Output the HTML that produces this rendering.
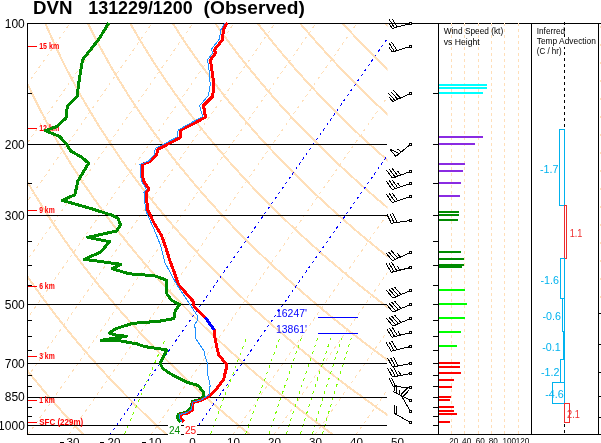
<!DOCTYPE html>
<html><head><meta charset="utf-8"><title>DVN 131229/1200 (Observed)</title>
<style>html,body{margin:0;padding:0;background:#fff;overflow:hidden}svg{display:block;will-change:transform}</style></head>
<body>
<svg width="601" height="443" viewBox="0 0 601 443" shape-rendering="crispEdges" font-family="'Liberation Sans', sans-serif">
<rect width="601" height="443" fill="#fff"/>
<defs><clipPath id="c"><rect x="27" y="23" width="360.5" height="411.5"/></clipPath></defs>
<g clip-path="url(#c)" fill="none">
<polyline stroke="#FFDFB9" stroke-width="2" points="86.6,438.1 82.7,434.0 78.7,429.8 74.7,425.5 70.6,421.1 66.4,416.5 62.2,411.9 58.0,407.1 53.7,402.2 49.3,397.1 44.8,391.9 40.3,386.5 35.8,381.0 31.1,375.3 26.4,369.4 21.7,363.2 16.8,356.9 11.9,350.3 6.8,343.4 1.7,336.3 -3.5,328.9 -8.8,321.1 -14.2,313.0 -19.7,304.5 -25.4,295.5 -31.1,286.1 -37.0,276.1"/>
<polyline stroke="#FFDFB9" stroke-width="2" points="170.3,438.1 165.8,434.0 161.3,429.8 156.6,425.5 152.0,421.1 147.2,416.5 142.4,411.9 137.5,407.1 132.6,402.2 127.6,397.1 122.5,391.9 117.3,386.5 112.0,381.0 106.7,375.3 101.2,369.4 95.7,363.2 90.1,356.9 84.4,350.3 78.5,343.4 72.6,336.3 66.5,328.9 60.3,321.1 54.0,313.0 47.5,304.5 40.9,295.5 34.2,286.1 27.2,276.1 20.1,265.5 12.8,254.3 5.4,242.2 -2.3,229.3 -10.2,215.3 -13.5,209.4 -16.7,203.3 -20.0,196.9 -23.4,190.3 -26.8,183.5 -30.2,176.3 -33.7,168.9 -37.2,161.2"/>
<polyline stroke="#FFDFB9" stroke-width="2" points="254.0,438.1 249.0,434.0 243.9,429.8 238.6,425.5 233.4,421.1 228.0,416.5 222.6,411.9 217.1,407.1 211.5,402.2 205.8,397.1 200.1,391.9 194.2,386.5 188.3,381.0 182.2,375.3 176.0,369.4 169.8,363.2 163.4,356.9 156.9,350.3 150.2,343.4 143.4,336.3 136.5,328.9 129.4,321.1 122.2,313.0 114.8,304.5 107.2,295.5 99.4,286.1 91.4,276.1 83.2,265.5 74.8,254.3 66.1,242.2 57.2,229.3 47.9,215.3 44.1,209.4 40.3,203.3 36.4,196.9 32.4,190.3 28.4,183.5 24.3,176.3 20.2,168.9 16.0,161.2 11.8,153.0 7.4,144.5 3.0,135.6 -1.4,126.1 -6.0,116.1 -10.6,105.6 -15.3,94.3 -20.0,82.2 -24.8,69.3 -29.7,55.3 -34.6,40.1 -39.6,23.5"/>
<polyline stroke="#FFDFB9" stroke-width="2" points="337.8,438.1 332.1,434.0 326.4,429.8 320.6,425.5 314.8,421.1 308.8,416.5 302.8,411.9 296.7,407.1 290.4,402.2 284.1,397.1 277.7,391.9 271.2,386.5 264.5,381.0 257.7,375.3 250.8,369.4 243.8,363.2 236.7,356.9 229.4,350.3 221.9,343.4 214.3,336.3 206.5,328.9 198.6,321.1 190.4,313.0 182.1,304.5 173.5,295.5 164.7,286.1 155.7,276.1 146.4,265.5 136.8,254.3 126.9,242.2 116.6,229.3 106.0,215.3 101.7,209.4 97.3,203.3 92.8,196.9 88.2,190.3 83.6,183.5 78.9,176.3 74.1,168.9 69.2,161.2 64.3,153.0 59.2,144.5 54.1,135.6 48.8,126.1 43.5,116.1 38.0,105.6 32.4,94.3 26.8,82.2 21.0,69.3 15.1,55.3 9.0,40.1 2.9,23.5 -3.3,5.1"/>
<polyline stroke="#FFDFB9" stroke-width="2" points="421.5,438.1 415.3,434.0 409.0,429.8 402.6,425.5 396.2,421.1 389.6,416.5 383.0,411.9 376.2,407.1 369.4,402.2 362.4,397.1 355.3,391.9 348.1,386.5 340.7,381.0 333.3,375.3 325.6,369.4 317.9,363.2 310.0,356.9 301.9,350.3 293.6,343.4 285.2,336.3 276.5,328.9 267.7,321.1 258.6,313.0 249.3,304.5 239.8,295.5 230.0,286.1 219.9,276.1 209.5,265.5 198.7,254.3 187.6,242.2 176.1,229.3 164.2,215.3 159.3,209.4 154.3,203.3 149.2,196.9 144.0,190.3 138.8,183.5 133.4,176.3 128.0,168.9 122.4,161.2 116.8,153.0 111.0,144.5 105.1,135.6 99.0,126.1 92.9,116.1 86.6,105.6 80.1,94.3 73.5,82.2 66.7,69.3 59.8,55.3 52.7,40.1 45.4,23.5 37.9,5.1"/>
<polyline stroke="#FFDFB9" stroke-width="2" points="432.9,391.9 425.0,386.5 417.0,381.0 408.8,375.3 400.4,369.4 391.9,363.2 383.2,356.9 374.4,350.3 365.3,343.4 356.0,336.3 346.5,328.9 336.8,321.1 326.8,313.0 316.6,304.5 306.1,295.5 295.3,286.1 284.1,276.1 272.6,265.5 260.7,254.3 248.4,242.2 235.6,229.3 222.3,215.3 216.8,209.4 211.3,203.3 205.6,196.9 199.8,190.3 194.0,183.5 188.0,176.3 181.9,168.9 175.6,161.2 169.3,153.0 162.8,144.5 156.1,135.6 149.3,126.1 142.3,116.1 135.2,105.6 127.8,94.3 120.3,82.2 112.5,69.3 104.6,55.3 96.3,40.1 87.9,23.5 79.1,5.1"/>
<polyline stroke="#FFDFB9" stroke-width="2" points="437.0,343.4 426.9,336.3 416.5,328.9 405.9,321.1 395.0,313.0 383.9,304.5 372.4,295.5 360.5,286.1 348.3,276.1 335.7,265.5 322.6,254.3 309.1,242.2 295.1,229.3 280.4,215.3 274.4,209.4 268.3,203.3 262.0,196.9 255.6,190.3 249.1,183.5 242.5,176.3 235.7,168.9 228.8,161.2 221.8,153.0 214.5,144.5 207.1,135.6 199.5,126.1 191.7,116.1 183.7,105.6 175.5,94.3 167.0,82.2 158.3,69.3 149.3,55.3 140.0,40.1 130.3,23.5 120.3,5.1"/>
<polyline stroke="#FFDFB9" stroke-width="2" points="438.7,295.5 425.8,286.1 412.5,276.1 398.8,265.5 384.6,254.3 369.9,242.2 354.5,229.3 338.6,215.3 332.0,209.4 325.3,203.3 318.4,196.9 311.4,190.3 304.3,183.5 297.1,176.3 289.6,168.9 282.0,161.2 274.3,153.0 266.3,144.5 258.1,135.6 249.8,126.1 241.2,116.1 232.3,105.6 223.2,94.3 213.8,82.2 204.1,69.3 194.0,55.3 183.6,40.1 172.8,23.5 161.6,5.1"/>
<polyline stroke="#FFDFB9" stroke-width="2" points="430.6,242.2 414.0,229.3 396.7,215.3 389.5,209.4 382.3,203.3 374.8,196.9 367.2,190.3 359.5,183.5 351.6,176.3 343.5,168.9 335.2,161.2 326.8,153.0 318.1,144.5 309.2,135.6 300.0,126.1 290.6,116.1 280.9,105.6 270.9,94.3 260.6,82.2 249.9,69.3 238.8,55.3 227.3,40.1 215.3,23.5 202.8,5.1"/>
<polyline stroke="#FFDFB9" stroke-width="2" points="439.3,203.3 431.2,196.9 423.1,190.3 414.7,183.5 406.1,176.3 397.4,168.9 388.4,161.2 379.3,153.0 369.8,144.5 360.2,135.6 350.2,126.1 340.0,116.1 329.5,105.6 318.6,94.3 307.3,82.2 295.6,69.3 283.5,55.3 270.9,40.1 257.8,23.5 244.0,5.1"/>
<polyline stroke="#FFDFB9" stroke-width="2" points="431.8,153.0 421.6,144.5 411.2,135.6 400.5,126.1 389.4,116.1 378.0,105.6 366.3,94.3 354.1,82.2 341.4,69.3 328.3,55.3 314.6,40.1 300.2,23.5 285.2,5.1"/>
<polyline stroke="#FFDFB9" stroke-width="2" points="438.9,116.1 426.6,105.6 414.0,94.3 400.8,82.2 387.2,69.3 373.0,55.3 358.2,40.1 342.7,23.5 326.4,5.1"/>
<polyline stroke="#FFDFB9" stroke-width="2" points="433.0,69.3 417.8,55.3 401.9,40.1 385.2,23.5 367.6,5.1"/>
<polyline stroke="#FFDFB9" stroke-width="2" points="427.7,23.5 408.8,5.1"/>
<line stroke="#FFDFB9" stroke-width="1" stroke-dasharray="3.2 3.8" x1="-341.2" y1="435.0" x2="-50.7" y2="20.0"/>
<line stroke="#FFDFB9" stroke-width="1" stroke-dasharray="3.2 3.8" x1="-300.2" y1="435.0" x2="-9.7" y2="20.0"/>
<line stroke="#FFDFB9" stroke-width="1" stroke-dasharray="3.2 3.8" x1="-259.2" y1="435.0" x2="31.3" y2="20.0"/>
<line stroke="#FFDFB9" stroke-width="1" stroke-dasharray="3.2 3.8" x1="-218.2" y1="435.0" x2="72.3" y2="20.0"/>
<line stroke="#FFDFB9" stroke-width="1" stroke-dasharray="3.2 3.8" x1="-177.2" y1="435.0" x2="113.3" y2="20.0"/>
<line stroke="#FFDFB9" stroke-width="1" stroke-dasharray="3.2 3.8" x1="-136.2" y1="435.0" x2="154.3" y2="20.0"/>
<line stroke="#FFDFB9" stroke-width="1" stroke-dasharray="3.2 3.8" x1="-95.2" y1="435.0" x2="195.3" y2="20.0"/>
<line stroke="#FFDFB9" stroke-width="1" stroke-dasharray="3.2 3.8" x1="-54.2" y1="435.0" x2="236.3" y2="20.0"/>
<line stroke="#FFDFB9" stroke-width="1" stroke-dasharray="3.2 3.8" x1="-13.2" y1="435.0" x2="277.3" y2="20.0"/>
<line stroke="#FFDFB9" stroke-width="1" stroke-dasharray="3.2 3.8" x1="27.8" y1="435.0" x2="318.3" y2="20.0"/>
<line stroke="#FFDFB9" stroke-width="1" stroke-dasharray="3.2 3.8" x1="68.8" y1="435.0" x2="359.3" y2="20.0"/>
<line stroke="#0000ff" stroke-width="1" stroke-dasharray="2.6 3.4" x1="109.8" y1="435.0" x2="400.3" y2="20.0"/>
<line stroke="#FFDFB9" stroke-width="1" stroke-dasharray="3.2 3.8" x1="150.8" y1="435.0" x2="441.3" y2="20.0"/>
<line stroke="#0000ff" stroke-width="1" stroke-dasharray="2.6 3.4" x1="191.8" y1="435.0" x2="482.3" y2="20.0"/>
<line stroke="#FFDFB9" stroke-width="1" stroke-dasharray="3.2 3.8" x1="232.8" y1="435.0" x2="523.3" y2="20.0"/>
<line stroke="#FFDFB9" stroke-width="1" stroke-dasharray="3.2 3.8" x1="273.8" y1="435.0" x2="564.3" y2="20.0"/>
<line stroke="#FFDFB9" stroke-width="1" stroke-dasharray="3.2 3.8" x1="314.8" y1="435.0" x2="605.3" y2="20.0"/>
<line stroke="#FFDFB9" stroke-width="1" stroke-dasharray="3.2 3.8" x1="355.8" y1="435.0" x2="646.3" y2="20.0"/>
<line stroke="#FFDFB9" stroke-width="1" stroke-dasharray="3.2 3.8" x1="396.8" y1="435.0" x2="687.3" y2="20.0"/>
<polyline stroke="#7CFC00" stroke-width="1" stroke-dasharray="3 4" points="124.6,434.0 128.2,425.5 132.0,416.5 136.0,407.1 140.2,397.1 144.7,386.5 149.5,375.3 154.7,363.2 160.3,350.3 165.5,338.3"/>
<polyline stroke="#7CFC00" stroke-width="1" stroke-dasharray="3 4" points="210.6,434.0 213.7,425.5 217.0,416.5 220.5,407.1 224.2,397.1 228.1,386.5 232.4,375.3 236.9,363.2 241.9,350.3 246.5,338.3"/>
<polyline stroke="#7CFC00" stroke-width="1" stroke-dasharray="3 4" points="245.8,434.0 248.7,425.5 251.8,416.5 255.1,407.1 258.6,397.1 262.3,386.5 266.3,375.3 270.6,363.2 275.2,350.3 279.5,338.3"/>
<polyline stroke="#7CFC00" stroke-width="1" stroke-dasharray="3 4" points="269.0,434.0 271.8,425.5 274.7,416.5 277.8,407.1 281.1,397.1 284.7,386.5 288.5,375.3 292.6,363.2 297.1,350.3 301.2,338.3"/>
<polyline stroke="#7CFC00" stroke-width="1" stroke-dasharray="3 4" points="286.4,434.0 289.1,425.5 291.9,416.5 294.9,407.1 298.1,397.1 301.6,386.5 305.3,375.3 309.2,363.2 313.5,350.3 317.5,338.3"/>
<polyline stroke="#7CFC00" stroke-width="1" stroke-dasharray="3 4" points="300.5,434.0 303.1,425.5 305.8,416.5 308.7,407.1 311.8,397.1 315.2,386.5 318.7,375.3 322.6,363.2 326.8,350.3 330.7,338.3"/>
<polyline stroke="#7CFC00" stroke-width="1" stroke-dasharray="3 4" points="312.3,434.0 314.8,425.5 317.4,416.5 320.3,407.1 323.3,397.1 326.5,386.5 330.0,375.3 333.8,363.2 337.9,350.3 341.7,338.3"/>
<polyline stroke="#7CFC00" stroke-width="1" stroke-dasharray="3 4" points="322.4,434.0 324.9,425.5 327.5,416.5 330.3,407.1 333.2,397.1 336.4,386.5 339.8,375.3 343.5,363.2 347.5,350.3 351.2,338.3"/>
</g>
<g stroke="#000" stroke-width="1" fill="none">
<line x1="27" y1="23.5" x2="601" y2="23.5"/>
<line x1="27" y1="434.5" x2="601" y2="434.5"/>
<line x1="27.5" y1="23" x2="27.5" y2="435"/>
<line x1="27" y1="144.5" x2="387" y2="144.5"/>
<line x1="27" y1="215.5" x2="387" y2="215.5"/>
<line x1="27" y1="304.5" x2="387" y2="304.5"/>
<line x1="27" y1="363.5" x2="387" y2="363.5"/>
<line x1="27" y1="397.5" x2="387" y2="397.5"/>
<line x1="27" y1="425.5" x2="387" y2="425.5"/>
<line x1="27" y1="93.5" x2="32" y2="93.5"/>
<line x1="433" y1="93.5" x2="439" y2="93.5"/>
<line x1="27" y1="183.5" x2="32" y2="183.5"/>
<line x1="433" y1="183.5" x2="439" y2="183.5"/>
<line x1="27" y1="241.5" x2="32" y2="241.5"/>
<line x1="433" y1="241.5" x2="439" y2="241.5"/>
<line x1="27" y1="265.5" x2="32" y2="265.5"/>
<line x1="433" y1="265.5" x2="439" y2="265.5"/>
<line x1="27" y1="285.5" x2="32" y2="285.5"/>
<line x1="433" y1="285.5" x2="439" y2="285.5"/>
<line x1="27" y1="320.5" x2="32" y2="320.5"/>
<line x1="433" y1="320.5" x2="439" y2="320.5"/>
<line x1="27" y1="336.5" x2="32" y2="336.5"/>
<line x1="433" y1="336.5" x2="439" y2="336.5"/>
<line x1="27" y1="350.5" x2="32" y2="350.5"/>
<line x1="433" y1="350.5" x2="439" y2="350.5"/>
<line x1="27" y1="375.5" x2="32" y2="375.5"/>
<line x1="433" y1="375.5" x2="439" y2="375.5"/>
<line x1="27" y1="386.5" x2="32" y2="386.5"/>
<line x1="433" y1="386.5" x2="439" y2="386.5"/>
<line x1="27" y1="407.5" x2="32" y2="407.5"/>
<line x1="433" y1="407.5" x2="439" y2="407.5"/>
<line x1="27" y1="416.5" x2="32" y2="416.5"/>
<line x1="433" y1="416.5" x2="439" y2="416.5"/>
<line x1="433" y1="144.5" x2="439" y2="144.5"/>
<line x1="433" y1="215.5" x2="439" y2="215.5"/>
<line x1="433" y1="304.5" x2="439" y2="304.5"/>
<line x1="433" y1="363.5" x2="439" y2="363.5"/>
<line x1="433" y1="397.5" x2="439" y2="397.5"/>
<line x1="433" y1="425.5" x2="439" y2="425.5"/>
<line x1="438.5" y1="23" x2="438.5" y2="435"/>
<line x1="531.5" y1="23" x2="531.5" y2="435"/>
<line x1="598.5" y1="23" x2="598.5" y2="435"/>
<line x1="564.5" y1="22" x2="564.5" y2="434" stroke-dasharray="3 3"/>
<line x1="598" y1="313.5" x2="601" y2="313.5"/>
<line x1="598" y1="344.5" x2="601" y2="344.5"/>
<line x1="598" y1="372.5" x2="601" y2="372.5"/>
<line x1="598" y1="396.5" x2="601" y2="396.5"/>
<line x1="598" y1="417.5" x2="601" y2="417.5"/>
</g>
<g stroke="#FFDFB9" stroke-width="1" stroke-dasharray="3 3" fill="none">
<line x1="451.5" y1="23" x2="451.5" y2="434"/>
<line x1="464.5" y1="23" x2="464.5" y2="434"/>
<line x1="478.5" y1="23" x2="478.5" y2="434"/>
<line x1="491.5" y1="23" x2="491.5" y2="434"/>
<line x1="504.5" y1="23" x2="504.5" y2="434"/>
<line x1="518.5" y1="23" x2="518.5" y2="434"/>
<line x1="600.5" y1="26" x2="600.5" y2="300" stroke-dasharray="2 16"/>
</g>
<g stroke="#ff0000" stroke-width="1">
<line x1="28" y1="46.5" x2="37" y2="46.5"/>
<line x1="28" y1="128.5" x2="37" y2="128.5"/>
<line x1="28" y1="210.5" x2="37" y2="210.5"/>
<line x1="28" y1="286.5" x2="37" y2="286.5"/>
<line x1="28" y1="356.5" x2="37" y2="356.5"/>
<line x1="28" y1="400.5" x2="37" y2="400.5"/>
<line x1="28" y1="422.5" x2="37" y2="422.5"/>
</g>
<g fill="#ff0000" font-size="9px" font-weight="bold">
<text x="39.2" y="49.2" textLength="20.0" lengthAdjust="spacingAndGlyphs">15 km</text>
<text x="39.2" y="131.2" textLength="20.0" lengthAdjust="spacingAndGlyphs">12 km</text>
<text x="39.2" y="213.2" textLength="15.5" lengthAdjust="spacingAndGlyphs">9 km</text>
<text x="39.2" y="289.2" textLength="15.5" lengthAdjust="spacingAndGlyphs">6 km</text>
<text x="39.2" y="359.2" textLength="15.5" lengthAdjust="spacingAndGlyphs">3 km</text>
<text x="39.2" y="403.2" textLength="15.5" lengthAdjust="spacingAndGlyphs">1 km</text>
<text x="39.2" y="425.2" textLength="44.0" lengthAdjust="spacingAndGlyphs">SFC (229m)</text>
</g>
<g fill="none" stroke-linejoin="round">
<polyline stroke="#008B00" stroke-width="3" points="108.8,23.0 98.6,39.5 82.5,59.8 78.3,86.0 77.5,95.9 67.3,106.1 66.1,117.9 57.1,126.4 45.3,130.6 59.7,136.5 66.5,144.1 70.7,150.9 82.5,157.7 88.5,163.3 77.8,181.2 74.9,194.7 62.2,200.3 92.7,209.1 111.3,215.0 118.1,218.4 120.6,225.1 116.4,231.1 87.8,237.3 109.8,241.7 100.5,252.1 84.4,259.3 120.8,264.3 112.3,268.7 129.2,273.8 154.6,275.8 166.4,280.1 166.1,292.7 171.2,300.0 179.7,304.7 175.4,310.2 173.8,318.6 159.4,321.2 132.3,323.4 115.4,328.8 109.5,333.0 113.7,334.7 126.4,336.4 117.9,337.6 101.0,340.3 117.1,340.3 137.4,344.0 144.1,346.5 167.0,349.9 160.2,363.5 162.8,368.5 170.3,373.7 186.4,382.1 198.2,385.5 203.3,392.3 204.1,396.5 199.1,399.9 192.3,401.6 190.6,408.4 186.4,412.3 178.4,414.3 177.1,417.7 180.5,421.9"/>
<polyline stroke="#ff0000" stroke-width="3" points="227.1,22.7 223.3,30.1 222.6,39.6 214.5,49.8 215.5,53.2 210.4,59.9 213.2,79.5 213.9,82.6 212.8,96.2 203.5,105.5 205.5,117.3 180.6,130.0 180.3,137.6 158.1,149.3 156.4,155.2 150.5,161.2 142.0,164.5 143.2,180.6 148.8,189.1 146.2,192.5 147.1,204.3 147.9,210.0 153.8,222.7 161.5,235.4 165.7,247.2 169.9,260.8 175.0,274.3 178.4,284.5 193.1,301.2 194.3,307.1 205.0,317.2 214.3,329.9 215.1,339.2 218.5,354.5 227.0,365.2 223.6,379.6 215.1,390.6 208.4,396.5 200.8,400.4 193.1,402.5 192.3,410.1 188.1,412.9 180.5,414.6 180.8,418.5 183.8,421.9"/>
<polyline stroke="#1E90FF" stroke-width="1" points="224.5,23.0 220.5,30.5 219.5,39.0 211.5,49.0 212.5,53.0 207.5,60.0 209.7,75.0 210.2,85.2 208.5,95.3 199.6,105.8 202.6,116.5 178.1,130.0 177.6,136.8 155.2,148.6 154.0,155.0 148.5,161.0 140.0,164.5 141.2,180.6 146.5,189.5 144.0,192.5 145.0,204.0 145.4,210.0 153.8,228.6 160.6,245.5 164.8,262.5 172.5,276.8 176.7,284.5 190.6,305.4 197.7,316.4 197.4,320.6 194.8,324.0 195.7,338.4 204.1,351.1 204.5,354.5 207.5,363.5 207.2,372.0 210.1,385.5 209.2,394.8 200.5,400.2 192.8,402.0 191.5,409.3 187.2,412.6 179.5,414.5 179.0,418.0 182.0,421.9"/>
<polyline stroke="#0000ff" stroke-width="3" points="205,317.2 214.3,329.9"/>
<line stroke="#0000ff" stroke-width="1" x1="318" y1="317.5" x2="358" y2="317.5"/>
<line stroke="#0000ff" stroke-width="1" x1="318" y1="333.5" x2="358" y2="333.5"/>
</g>
<g fill="#0000ff" font-size="10.5px"><text x="276" y="317" textLength="31" lengthAdjust="spacingAndGlyphs">16247'</text><text x="276" y="333" textLength="31" lengthAdjust="spacingAndGlyphs">13861'</text></g>
<g stroke="#000" stroke-width="1" fill="none">
<line x1="409.1" y1="23.9" x2="392.2" y2="28.4"/><line x1="392.2" y1="28.4" x2="389.0" y2="23.2"/><line x1="394.4" y1="27.8" x2="389.0" y2="19.1"/><line x1="397.2" y1="27.0" x2="391.8" y2="18.4"/><rect x="409.5" y="22.5" width="2" height="2" fill="#fff"/>
<line x1="409.1" y1="46.9" x2="392.2" y2="52.0"/><line x1="392.2" y1="52.0" x2="388.8" y2="46.9"/><line x1="394.4" y1="51.3" x2="388.8" y2="42.8"/><line x1="397.2" y1="50.5" x2="391.5" y2="42.0"/><rect x="409.5" y="45.5" width="2" height="2" fill="#fff"/>
<line x1="409.1" y1="94.1" x2="392.9" y2="101.5"/><line x1="392.9" y1="101.5" x2="388.8" y2="96.9"/><line x1="395.0" y1="100.5" x2="388.3" y2="92.9"/><line x1="397.7" y1="99.3" x2="390.9" y2="91.7"/><line x1="400.3" y1="98.1" x2="393.5" y2="90.5"/><rect x="409.5" y="92.5" width="2" height="2" fill="#fff"/>
<line x1="409.3" y1="145.4" x2="395.7" y2="156.4"/><polygon fill="none" points="395.7,156.4 389.7,148.9 399.1,153.6"/><line x1="401.4" y1="151.8" x2="397.3" y2="149.1"/><rect x="409.5" y="143.5" width="2" height="2" fill="#fff"/>
<line x1="409.1" y1="172.0" x2="392.5" y2="178.1"/><line x1="392.5" y1="178.1" x2="386.3" y2="170.0"/><line x1="395.2" y1="177.1" x2="389.1" y2="169.0"/><line x1="397.9" y1="176.1" x2="391.8" y2="168.0"/><line x1="400.7" y1="175.1" x2="397.7" y2="171.2"/><rect x="409.5" y="170.5" width="2" height="2" fill="#fff"/>
<line x1="409.1" y1="184.0" x2="392.2" y2="189.5"/><line x1="392.2" y1="189.5" x2="386.3" y2="181.2"/><line x1="395.0" y1="188.6" x2="389.1" y2="180.3"/><line x1="397.7" y1="187.7" x2="391.8" y2="179.4"/><line x1="400.5" y1="186.8" x2="397.6" y2="182.8"/><rect x="409.5" y="182.5" width="2" height="2" fill="#fff"/>
<line x1="409.1" y1="197.0" x2="392.2" y2="202.5"/><line x1="392.2" y1="202.5" x2="386.3" y2="194.2"/><line x1="395.0" y1="201.6" x2="389.1" y2="193.3"/><line x1="397.7" y1="200.7" x2="391.8" y2="192.4"/><rect x="409.5" y="195.5" width="2" height="2" fill="#fff"/>
<line x1="409.0" y1="220.7" x2="391.3" y2="223.3"/><line x1="391.3" y1="223.3" x2="386.9" y2="214.1"/><line x1="394.2" y1="222.9" x2="389.8" y2="213.7"/><line x1="397.0" y1="222.5" x2="392.7" y2="213.2"/><rect x="409.5" y="219.5" width="2" height="2" fill="#fff"/>
<line x1="409.1" y1="253.1" x2="392.5" y2="260.6"/><line x1="392.5" y1="260.6" x2="385.8" y2="252.9"/><line x1="395.1" y1="259.4" x2="388.4" y2="251.7"/><line x1="397.8" y1="258.2" x2="391.1" y2="250.5"/><line x1="400.4" y1="257.0" x2="397.2" y2="253.3"/><rect x="409.5" y="251.5" width="2" height="2" fill="#fff"/>
<line x1="409.0" y1="267.9" x2="391.3" y2="272.3"/><line x1="391.3" y1="272.3" x2="386.0" y2="263.6"/><line x1="394.1" y1="271.6" x2="388.9" y2="262.9"/><line x1="396.9" y1="270.9" x2="391.7" y2="262.2"/><line x1="399.7" y1="270.2" x2="397.2" y2="266.0"/><rect x="409.5" y="266.5" width="2" height="2" fill="#fff"/>
<line x1="409.1" y1="291.1" x2="393.0" y2="298.1"/><line x1="393.0" y1="298.1" x2="386.4" y2="290.3"/><line x1="395.7" y1="296.9" x2="389.0" y2="289.2"/><line x1="398.3" y1="295.8" x2="391.7" y2="288.0"/><line x1="401.0" y1="294.6" x2="394.4" y2="286.9"/><rect x="409.5" y="289.5" width="2" height="2" fill="#fff"/>
<line x1="409.1" y1="305.1" x2="393.0" y2="312.1"/><line x1="393.0" y1="312.1" x2="386.4" y2="304.3"/><line x1="395.7" y1="310.9" x2="389.0" y2="303.2"/><line x1="398.3" y1="309.8" x2="391.7" y2="302.0"/><line x1="401.0" y1="308.6" x2="394.4" y2="300.9"/><rect x="409.5" y="303.5" width="2" height="2" fill="#fff"/>
<line x1="409.1" y1="319.1" x2="393.0" y2="326.1"/><line x1="393.0" y1="326.1" x2="386.4" y2="318.3"/><line x1="395.7" y1="324.9" x2="389.0" y2="317.2"/><line x1="398.3" y1="323.8" x2="391.7" y2="316.0"/><line x1="401.0" y1="322.6" x2="394.4" y2="314.9"/><rect x="409.5" y="317.5" width="2" height="2" fill="#fff"/>
<line x1="409.0" y1="332.9" x2="391.9" y2="337.2"/><line x1="391.9" y1="337.2" x2="386.6" y2="328.5"/><line x1="394.7" y1="336.5" x2="389.4" y2="327.8"/><line x1="397.5" y1="335.8" x2="392.2" y2="327.1"/><line x1="400.3" y1="335.1" x2="397.8" y2="330.9"/><rect x="409.5" y="331.5" width="2" height="2" fill="#fff"/>
<line x1="409.0" y1="346.9" x2="391.3" y2="351.2"/><line x1="391.3" y1="351.2" x2="386.1" y2="342.4"/><line x1="394.1" y1="350.5" x2="388.9" y2="341.7"/><line x1="396.9" y1="349.8" x2="391.7" y2="341.1"/><rect x="409.5" y="345.5" width="2" height="2" fill="#fff"/>
<line x1="409.0" y1="363.8" x2="392.5" y2="367.1"/><line x1="392.5" y1="367.1" x2="387.7" y2="358.1"/><line x1="395.3" y1="366.5" x2="390.5" y2="357.6"/><line x1="398.2" y1="366.0" x2="393.4" y2="357.0"/><rect x="409.5" y="362.5" width="2" height="2" fill="#fff"/>
<line x1="409.0" y1="373.8" x2="392.5" y2="377.2"/><line x1="392.5" y1="377.2" x2="387.6" y2="368.2"/><line x1="395.3" y1="376.6" x2="390.5" y2="367.7"/><line x1="398.2" y1="376.0" x2="393.3" y2="367.1"/><line x1="401.0" y1="375.4" x2="398.7" y2="371.1"/><rect x="409.5" y="372.5" width="2" height="2" fill="#fff"/>
<line x1="409.0" y1="387.4" x2="393.2" y2="386.6"/><line x1="393.2" y1="386.6" x2="388.6" y2="377.5"/><line x1="396.1" y1="386.8" x2="391.5" y2="377.7"/><rect x="409.5" y="386.5" width="2" height="2" fill="#fff"/>
<line x1="409.2" y1="399.8" x2="394.0" y2="392.0"/><line x1="394.0" y1="392.0" x2="394.2" y2="383.8"/><line x1="396.6" y1="393.3" x2="396.8" y2="385.1"/><line x1="399.2" y1="394.7" x2="399.3" y2="389.8"/><rect x="409.5" y="399.5" width="2" height="2" fill="#fff"/>
<line x1="409.8" y1="410.2" x2="400.9" y2="394.8"/><line x1="400.9" y1="394.8" x2="407.9" y2="387.4"/><line x1="402.3" y1="397.3" x2="409.3" y2="389.9"/><rect x="409.5" y="410.5" width="2" height="2" fill="#fff"/>
<line x1="409.2" y1="421.8" x2="394.0" y2="413.1"/><line x1="394.0" y1="413.1" x2="394.5" y2="404.9"/><line x1="396.5" y1="414.5" x2="397.0" y2="406.4"/><rect x="409.5" y="421.5" width="2" height="2" fill="#fff"/>
</g>
<g fill="#00ffff">
<rect x="439" y="84" width="48" height="2"/>
<rect x="439" y="87" width="48" height="2"/>
<rect x="439" y="92" width="44" height="2"/>
</g>
<g fill="#8A2BE2">
<rect x="439" y="136" width="44" height="2"/>
<rect x="439" y="143" width="36" height="2"/>
<rect x="439" y="163" width="26" height="2"/>
<rect x="439" y="170" width="24" height="2"/>
<rect x="439" y="182" width="22" height="2"/>
<rect x="439" y="195" width="21" height="2"/>
</g>
<g fill="#008B00">
<rect x="439" y="211" width="20" height="2"/>
<rect x="439" y="214" width="20" height="2"/>
<rect x="439" y="219" width="19" height="2"/>
<rect x="439" y="251" width="22" height="2"/>
<rect x="439" y="258" width="25" height="2"/>
<rect x="439" y="264" width="25" height="2"/>
<rect x="439" y="266" width="23" height="2"/>
</g>
<g fill="#00ff00">
<rect x="439" y="289" width="26" height="2"/>
<rect x="439" y="303" width="28" height="2"/>
<rect x="439" y="317" width="26" height="2"/>
<rect x="439" y="331" width="22" height="2"/>
<rect x="439" y="345" width="18" height="2"/>
</g>
<g fill="#ff0000">
<rect x="439" y="362" width="21" height="2"/>
<rect x="439" y="366" width="21" height="2"/>
<rect x="439" y="372" width="22" height="2"/>
<rect x="439" y="379" width="15" height="2"/>
<rect x="439" y="386" width="13" height="2"/>
<rect x="439" y="396" width="12" height="2"/>
<rect x="439" y="399" width="11" height="2"/>
<rect x="439" y="406" width="15" height="2"/>
<rect x="439" y="410" width="15" height="2"/>
<rect x="439" y="413" width="18" height="2"/>
<rect x="439" y="421" width="11" height="2"/>
</g>
<rect fill="#fff" stroke="#00B2EE" stroke-width="1" x="559.5" y="129.5" width="5.0" height="76.0"/>
<rect fill="#fff" stroke="#EE2C2C" stroke-width="1" x="564.5" y="205.5" width="2.0" height="53.0"/>
<rect fill="#fff" stroke="#00B2EE" stroke-width="1" x="560.5" y="258.5" width="4.0" height="40.0"/>
<rect fill="#fff" stroke="#00B2EE" stroke-width="1" x="562.5" y="298.5" width="2.0" height="33.0"/>
<rect fill="#fff" stroke="#00B2EE" stroke-width="1" x="563.5" y="331.5" width="1.0" height="28.0"/>
<rect fill="#fff" stroke="#00B2EE" stroke-width="1" x="560.5" y="359.5" width="4.0" height="23.0"/>
<rect fill="#fff" stroke="#00B2EE" stroke-width="1" x="552.5" y="382.5" width="12.0" height="21.0"/>
<rect fill="#fff" stroke="#EE2C2C" stroke-width="1" x="564.5" y="403.5" width="5.0" height="19.0"/>
<g font-size="10.3px">
<text x="558.5" y="172.9" fill="#00B2EE" text-anchor="end" textLength="18.5" lengthAdjust="spacingAndGlyphs">-1.7</text>
<text x="569.7" y="237.1" fill="#EE2C2C" text-anchor="start" textLength="12.8" lengthAdjust="spacingAndGlyphs">1.1</text>
<text x="559.0" y="283.8" fill="#00B2EE" text-anchor="end" textLength="18.5" lengthAdjust="spacingAndGlyphs">-1.6</text>
<text x="561.0" y="320.3" fill="#00B2EE" text-anchor="end" textLength="18.5" lengthAdjust="spacingAndGlyphs">-0.6</text>
<text x="560.7" y="351.3" fill="#00B2EE" text-anchor="end" textLength="18.5" lengthAdjust="spacingAndGlyphs">-0.1</text>
<text x="559.5" y="376.1" fill="#00B2EE" text-anchor="end" textLength="18.5" lengthAdjust="spacingAndGlyphs">-1.2</text>
<text x="563.8" y="398.0" fill="#00B2EE" text-anchor="end" textLength="18.5" lengthAdjust="spacingAndGlyphs">-4.6</text>
<text x="567.1" y="418.0" fill="#EE2C2C" text-anchor="start" textLength="12.8" lengthAdjust="spacingAndGlyphs">2.1</text>
</g>
<rect x="536" y="37" width="61" height="10" fill="#fff"/>
<g font-size="9.5px" fill="#000" lengthAdjust="spacingAndGlyphs">
<text x="443.7" y="34.3" textLength="59.5" lengthAdjust="spacingAndGlyphs">Wind Speed (kt)</text>
<text x="443.7" y="45.3" textLength="36.0" lengthAdjust="spacingAndGlyphs">vs Height</text>
<text x="536.8" y="34.0" textLength="28.2" lengthAdjust="spacingAndGlyphs">Inferred</text>
<text x="536.8" y="44.2" textLength="59.0" lengthAdjust="spacingAndGlyphs">Temp Advection</text>
<text x="536.8" y="53.5" textLength="24.8" lengthAdjust="spacingAndGlyphs">(C / hr)</text>
</g>
<g font-size="8.2px" fill="#000">
<text x="449.2" y="444.2">20</text>
<text x="462.1" y="444.2">40</text>
<text x="475.8" y="444.2">60</text>
<text x="488.8" y="444.2">80</text>
<text x="502.4" y="444.2">100</text>
<text x="515.7" y="444.2">120</text>
</g>
<g font-size="12px" fill="#000" text-anchor="end">
<text x="24.8" y="27.8">100</text>
<text x="24.8" y="148.8">200</text>
<text x="24.8" y="219.6">300</text>
<text x="24.8" y="308.8">500</text>
<text x="24.8" y="367.5">700</text>
<text x="24.8" y="401.4">850</text>
<text x="24.8" y="429.8">1000</text>
</g>
<g font-size="11.6px" fill="#000" text-anchor="middle">
<text x="73.0" y="445.5">30</text>
<rect x="60" y="442" width="4" height="1"/>
<text x="114.0" y="445.5">20</text>
<rect x="100" y="442" width="4" height="1"/>
<text x="155.0" y="445.5">10</text>
<rect x="142" y="442" width="4" height="1"/>
<text x="192.5" y="445.5">0</text>
<text x="233.5" y="445.5">10</text>
<text x="274.5" y="445.5">20</text>
<text x="315.5" y="445.5">30</text>
<text x="356.5" y="445.5">40</text>
<text x="397.5" y="445.5">50</text>
</g>
<rect x="168" y="424" width="13" height="12" fill="#fff"/><rect x="184" y="424" width="13" height="12" fill="#fff"/>
<g font-size="11.2px"><text x="169" y="434.2" fill="#008B00" textLength="11.2" lengthAdjust="spacingAndGlyphs">24</text><text x="185" y="434.2" fill="#ff0000" textLength="11.2" lengthAdjust="spacingAndGlyphs">25</text></g>
<g font-size="18.5px" font-weight="bold" fill="#000">
<text x="33.1" y="14.3" textLength="39.5" lengthAdjust="spacingAndGlyphs">DVN</text>
<text x="88.3" y="14.3" textLength="104.3" lengthAdjust="spacingAndGlyphs">131229/1200</text>
<text x="203.6" y="14.3" textLength="101.2" lengthAdjust="spacingAndGlyphs">(Observed)</text>
</g>
</svg>
</body></html>
